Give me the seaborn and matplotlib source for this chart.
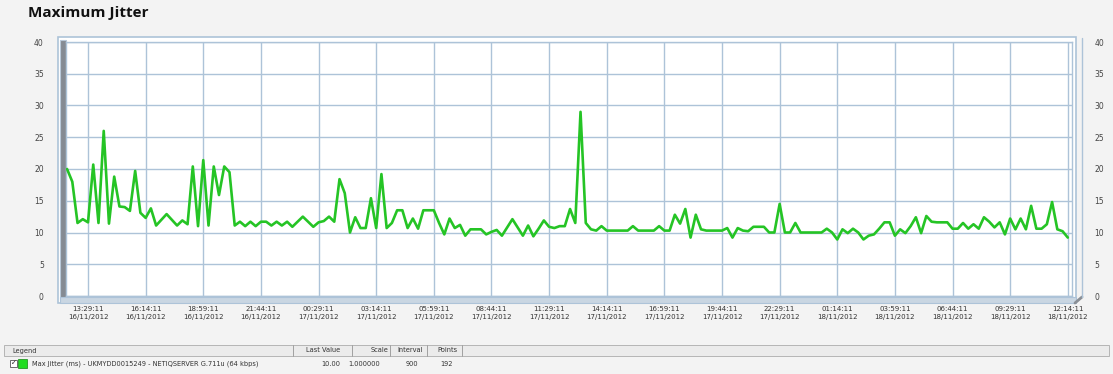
import numpy as np
import pandas as pd
import matplotlib
matplotlib.use("Agg")
import matplotlib.pyplot as plt
from matplotlib.patches import Rectangle
from matplotlib.lines import Line2D
import seaborn as sns

# ---- data ----
jitter = [
    20.0, 18.0, 11.5, 12.1, 11.6, 20.7, 11.5, 26.0, 11.4, 18.8,
    14.1, 14.0, 13.4, 19.7, 13.1, 12.3, 13.8, 11.1, 12.0, 12.9,
    12.0, 11.1, 11.9, 11.3, 20.4, 11.0, 21.4, 11.1, 20.4, 15.9,
    20.4, 19.5, 11.1, 11.7, 11.0, 11.7, 11.0, 11.7, 11.7, 11.1,
    11.7, 11.1, 11.7, 10.9, 11.7, 12.5, 11.7, 10.9, 11.6, 11.8,
    12.5, 11.7, 18.4, 16.2, 10.0, 12.4, 10.7, 10.7, 15.4, 10.7,
    19.2, 10.7, 11.5, 13.5, 13.5, 10.7, 12.2, 10.6, 13.5, 13.5,
    13.5, 11.5, 9.7, 12.2, 10.7, 11.2, 9.5, 10.5, 10.5, 10.5,
    9.7, 10.1, 10.4, 9.5, 10.8, 12.1, 10.8, 9.5, 11.1, 9.4,
    10.6, 11.9, 10.9, 10.7, 11.0, 11.0, 13.7, 11.5, 29.0, 11.5,
    10.5, 10.3, 11.0, 10.3, 10.3, 10.3, 10.3, 10.3, 11.0, 10.3,
    10.3, 10.3, 10.3, 11.0, 10.3, 10.3, 12.8, 11.4, 13.7, 9.2,
    12.8, 10.5, 10.3, 10.3, 10.3, 10.3, 10.7, 9.2, 10.7, 10.3,
    10.2, 10.9, 10.9, 10.9, 10.0, 10.0, 14.5, 10.0, 10.0, 11.5,
    10.0, 10.0, 10.0, 10.0, 10.0, 10.6, 10.0, 8.9, 10.5, 9.9,
    10.6, 10.0, 8.9, 9.5, 9.7, 10.6, 11.6, 11.6, 9.5, 10.5,
    9.9, 11.0, 12.4, 9.9, 12.6, 11.7, 11.6, 11.6, 11.6, 10.6,
    10.6, 11.5, 10.6, 11.3, 10.6, 12.4, 11.7, 10.8, 11.6, 9.7,
    12.2, 10.5, 12.2, 10.5, 14.2, 10.6, 10.6, 11.3, 14.8, 10.5,
    10.2, 9.2,
]
tick_labels = [
    "13:29:11\n16/11/2012", "16:14:11\n16/11/2012", "18:59:11\n16/11/2012",
    "21:44:11\n16/11/2012", "00:29:11\n17/11/2012", "03:14:11\n17/11/2012",
    "05:59:11\n17/11/2012", "08:44:11\n17/11/2012", "11:29:11\n17/11/2012",
    "14:14:11\n17/11/2012", "16:59:11\n17/11/2012", "19:44:11\n17/11/2012",
    "22:29:11\n17/11/2012", "01:14:11\n18/11/2012", "03:59:11\n18/11/2012",
    "06:44:11\n18/11/2012", "09:29:11\n18/11/2012", "12:14:11\n18/11/2012",
]
first_tick_index = 4
tick_step = 11
y_ticks = [0, 5, 10, 15, 20, 25, 30, 35, 40]
title = "Maximum Jitter"
legend_label = "Max Jitter (ms) - UKMYDD0015249 - NETIQSERVER G.711u (64 kbps)"
legend_headers = ["Legend", "Last Value", "Scale", "Interval", "Points"]
legend_values = ["10.00", "1.000000", "900", "192"]

df = pd.DataFrame({"idx": np.arange(len(jitter)), "jitter": jitter})
tick_pos = [first_tick_index + tick_step * k for k in range(len(tick_labels))]

# ---- figure ----
W, H = 1113, 374
sns.set_style("white")
plt.rcParams["font.family"] = ["DejaVu Sans"]
fig = plt.figure(figsize=(W / 100, H / 100), dpi=100)
fig.patch.set_facecolor("#f3f3f3")

def fx(px):
    return px / W

def fy(py):
    return 1 - py / H

# 3D-style box decorations (figure coords)
grid_c = "#adc3d8"
fig.patches.append(Rectangle((fx(58), fy(303)), fx(1018), (303 - 37) / H,
                             transform=fig.transFigure, facecolor="#ffffff",
                             edgecolor=grid_c, lw=1.2, zorder=0))
fig.patches.append(Rectangle((fx(60), fy(299)), fx(6), (299 - 40) / H,
                             transform=fig.transFigure, facecolor="#858b93",
                             edgecolor="#b8c8d8", lw=0.8, zorder=1))
fig.patches.append(Rectangle((fx(60), fy(303)), fx(1016), 6 / H,
                             transform=fig.transFigure, facecolor="#c9d6e2",
                             edgecolor=grid_c, lw=0.8, zorder=1))
fig.lines.append(Line2D([fx(1075), fx(1082)], [fy(303), fy(297)],
                        transform=fig.transFigure, color="#8a8f96", lw=2))
fig.lines.append(Line2D([fx(1082), fx(1082)], [fy(297), fy(38)],
                        transform=fig.transFigure, color=grid_c, lw=1))

ax = fig.add_axes([fx(66), fy(296), fx(1072 - 66), (296 - 42) / H])
ax.set_facecolor("white")
ax.set_zorder(2)
sns.lineplot(data=df, x="idx", y="jitter", ax=ax, color="#25c425", lw=1.9,
             zorder=3)

ax.set_xlim(-0.2, 191.8)
ax.set_ylim(0, 40)
ax.set_xticks(tick_pos)
ax.set_xticklabels(tick_labels, fontsize=5, color="#333333", linespacing=1.5)
ax.set_yticks(y_ticks)
ax.set_yticklabels([str(v) for v in y_ticks], fontsize=5.5, color="#444444")
ax.tick_params(axis="y", which="both", length=0, pad=16, labelright=True,
               labelleft=True)
ax.tick_params(axis="x", length=3, color=grid_c, pad=4, direction="out")
ax.grid(True, color=grid_c, lw=1)
ax.set_axisbelow(True)
for s in ax.spines.values():
    s.set_color(grid_c)
    s.set_linewidth(1)
ax.set_xlabel("")
ax.set_ylabel("")
leg = ax.get_legend()
if leg:
    leg.remove()

# ---- title ----
fig.text(fx(28), fy(13), title, fontsize=11, fontweight="bold",
         family=["Open Sans", "DejaVu Sans"], va="center", ha="left",
         color="#111111")

# ---- legend table ----
fig.patches.append(Rectangle((fx(4), fy(356)), fx(1105), 11 / H,
                             transform=fig.transFigure, facecolor="#ebebeb",
                             edgecolor="#b5b5b5", lw=0.7))
for sx in [293, 352, 390, 427, 462]:
    fig.lines.append(Line2D([fx(sx), fx(sx)], [fy(356), fy(345)],
                            transform=fig.transFigure, color="#a0a0a0", lw=0.7))
hdr_x = [12, 340, 388, 423, 457]
hdr_ha = ["left", "right", "right", "right", "right"]
for t, x, ha in zip(legend_headers, hdr_x, hdr_ha):
    fig.text(fx(x), fy(350.5), t, fontsize=4.8, ha=ha, va="center",
             color="#333333")
# checkbox and colour swatch
fig.patches.append(Rectangle((fx(10), fy(367)), fx(7), 7 / H,
                             transform=fig.transFigure, facecolor="white",
                             edgecolor="#555555", lw=0.6))
fig.text(fx(13.5), fy(363.5), "✓", fontsize=5, ha="center", va="center",
         color="#222222")
fig.patches.append(Rectangle((fx(18), fy(368)), fx(9), 9 / H,
                             transform=fig.transFigure, facecolor="#22dd22",
                             edgecolor="#118811", lw=0.5))
fig.text(fx(32), fy(363.5), legend_label, fontsize=4.8, ha="left",
         va="center", color="#333333")
val_x = [340, 380, 418, 453]
for t, x in zip(legend_values, val_x):
    fig.text(fx(x), fy(363.5), t, fontsize=4.8, ha="right", va="center",
             color="#333333")

fig.savefig("out.png", dpi=100, facecolor=fig.get_facecolor())
